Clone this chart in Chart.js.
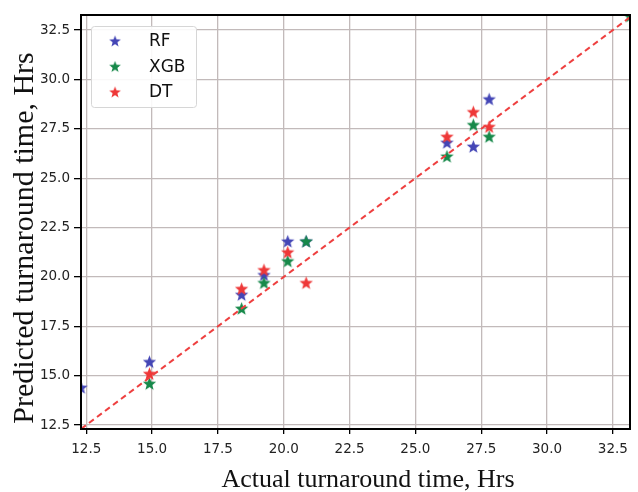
<!DOCTYPE html>
<html>
<head>
<meta charset="utf-8">
<script src="https://cdn.jsdelivr.net/npm/chart.js@4.4.1/dist/chart.umd.min.js"></script>
<style>
  html, body { margin: 0; padding: 0; background: #ffffff; }
  #wrap { width: 638px; height: 492px; position: relative; }
</style>
</head>
<body>
<div id="wrap"><canvas id="c" width="638" height="492"></canvas></div>
<script>
// ---- data ----
const actual   = [12.3, 14.9, 18.4, 19.25, 20.15, 20.85, 26.2, 27.2, 27.8, 33.15];
const rfPred   = [14.4, 15.7, 19.1, 20.1, 21.8, 21.8, 26.8, 26.6, 29.0, null];
const xgbPred  = [null, 14.6, 18.4, 19.7, 20.8, 21.8, 26.1, 27.7, 27.1, 33.2];
const dtPred   = [null, 15.1, 19.4, 20.35, 21.25, 19.7, 27.1, 28.35, 27.6, null];
const seriesNames = ["RF", "XGB", "DT"];
const xTicks = [12.5, 15.0, 17.5, 20.0, 22.5, 25.0, 27.5, 30.0, 32.5];
const yTicks = [12.5, 15.0, 17.5, 20.0, 22.5, 25.0, 27.5, 30.0, 32.5];
const identityLine = [12.3, 33.2];
const xRange = [12.3, 33.15];
const yRange = [12.3, 33.26];
const xTitle = "Actual turnaround time, Hrs";
const yTitle = "Predicted turnaround time, Hrs";

const colors = { RF: "#4446b6", XGB: "#17894a", DT: "#ee3838" };

function makeStar(color, size) {
  const cv = document.createElement('canvas');
  cv.width = size; cv.height = size;
  const g = cv.getContext('2d');
  const cx = size / 2, cy = size / 2 + 0.5, R = size / 2 - 0.5, r = R * 0.42;
  g.beginPath();
  for (let i = 0; i < 10; i++) {
    const ang = -Math.PI / 2 + i * Math.PI / 5;
    const rad = (i % 2 === 0) ? R : r;
    const px = cx + rad * Math.cos(ang), py = cy + rad * Math.sin(ang);
    if (i === 0) g.moveTo(px, py); else g.lineTo(px, py);
  }
  g.closePath();
  g.fillStyle = color;
  g.fill();
  return cv;
}

const stars = {
  RF: makeStar(colors.RF, 15),
  XGB: makeStar(colors.XGB, 15),
  DT: makeStar(colors.DT, 15)
};

function pts(vals) {
  const out = [];
  actual.forEach((a, i) => { if (vals[i] !== null) out.push({ x: a, y: vals[i] }); });
  return out;
}

const framePlugin = {
  id: 'frame',
  afterDatasetsDraw(chart) {
    const { ctx, chartArea: a } = chart;
    ctx.save();
    ctx.strokeStyle = '#000';
    ctx.lineWidth = 2;
    ctx.strokeRect(a.left, a.top, a.right - a.left, a.bottom - a.top);
    ctx.restore();
  },
  afterDraw(chart) {
    const { ctx, chartArea: a } = chart;
    // legend
    const lx = a.left + 10, ly = a.top + 11, lw = 105, lh = 81;
    ctx.save();
    ctx.fillStyle = 'rgba(255,255,255,0.9)';
    ctx.strokeStyle = '#d6d6d6';
    ctx.lineWidth = 1;
    ctx.beginPath();
    ctx.roundRect(lx + 0.5, ly + 0.5, lw, lh, 3);
    ctx.fill();
    ctx.stroke();
    ctx.font = '17px "DejaVu Sans"';
    ctx.fillStyle = '#111';
    ctx.textBaseline = 'middle';
    ctx.textAlign = 'left';
    seriesNames.forEach((n, i) => {
      const yy = ly + 15 + i * 25.5;
      ctx.drawImage(stars[n], lx + 24 - 6.5, yy - 6.5, 13, 13);
      ctx.fillText(n, lx + 58, yy + 1);
    });
    // axis titles
    ctx.font = '26px "Liberation Serif"';
    ctx.textAlign = 'center';
    ctx.textBaseline = 'alphabetic';
    ctx.fillText(xTitle, 368, 487);
    ctx.translate(33, 238);
    ctx.rotate(-Math.PI / 2);
    ctx.font = '30px "Liberation Serif"';
    ctx.fillText(yTitle, 0, 0);
    ctx.restore();
  }
};

const scatterCommon = {
  type: 'scatter',
  clip: 0,
  pointRadius: 7,
  pointHoverRadius: 7,
  showLine: false
};

new Chart(document.getElementById('c'), {
  data: {
    datasets: [
      {
        type: 'line',
        label: 'y=x',
        data: identityLine.map(v => ({ x: v, y: v })),
        borderColor: '#ee4040',
        borderWidth: 2,
        borderDash: [6, 4],
        pointRadius: 0,
        fill: false,
        clip: 0,
        order: 0
      },
      Object.assign({}, scatterCommon, { label: 'RF', data: pts(rfPred), pointStyle: stars.RF, backgroundColor: colors.RF, order: 3 }),
      Object.assign({}, scatterCommon, { label: 'XGB', data: pts(xgbPred), pointStyle: stars.XGB, backgroundColor: colors.XGB, order: 2 }),
      Object.assign({}, scatterCommon, { label: 'DT', data: pts(dtPred), pointStyle: stars.DT, backgroundColor: colors.DT, order: 1 })
    ]
  },
  options: {
    responsive: false,
    animation: false,
    layout: { padding: { left: 0, top: 15, right: 4, bottom: 0 } },
    plugins: { legend: { display: false }, tooltip: { enabled: false } },
    scales: {
      x: {
        type: 'linear',
        min: xRange[0], max: xRange[1],
        afterBuildTicks: s => { s.ticks = xTicks.map(v => ({ value: v })); },
        afterFit: s => { s.height = 63; },
        border: { display: false },
        grid: { color: '#c2baba', lineWidth: 1.3, tickColor: '#000', tickLength: 5, tickWidth: 1.3 },
        ticks: {
          padding: 7,
          color: '#222',
          font: { family: '"DejaVu Sans"', size: 13.5 },
          maxRotation: 0,
          callback: v => Number(v).toFixed(1)
        }
      },
      y: {
        type: 'linear',
        min: yRange[0], max: yRange[1],
        afterBuildTicks: s => { s.ticks = yTicks.map(v => ({ value: v })); },
        afterFit: s => { s.width = 81; },
        border: { display: false },
        grid: { color: '#c2baba', lineWidth: 1.3, tickColor: '#000', tickLength: 7, tickWidth: 1.3 },
        ticks: {
          padding: 4,
          color: '#222',
          font: { family: '"DejaVu Sans"', size: 13.5 },
          callback: v => Number(v).toFixed(1)
        }
      }
    }
  },
  plugins: [framePlugin]
});
</script>
</body>
</html>
